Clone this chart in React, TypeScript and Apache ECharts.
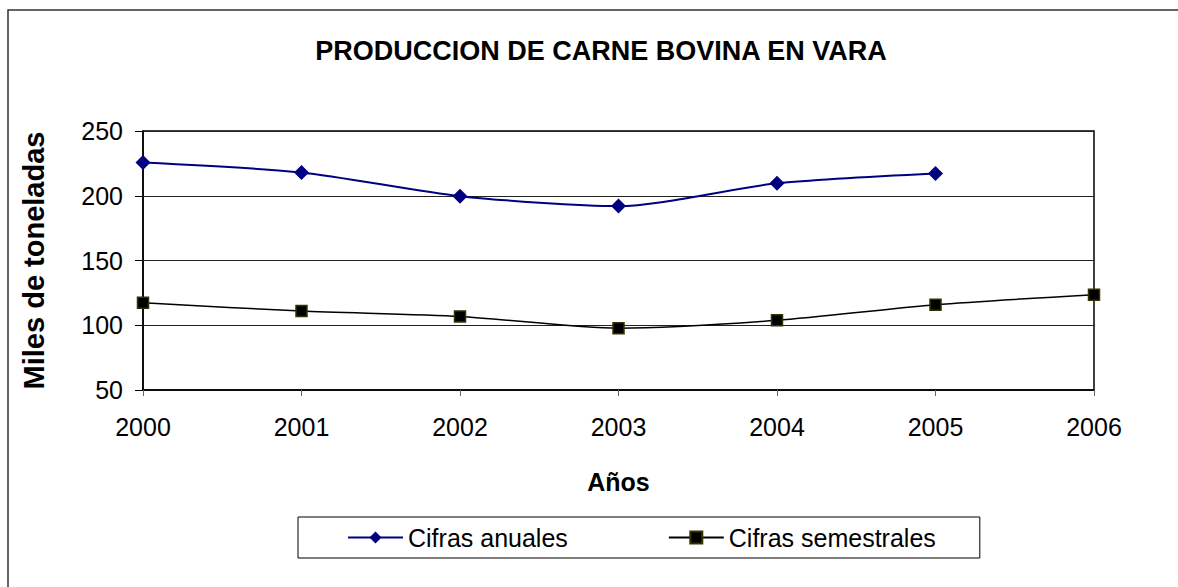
import React, { useEffect, useRef } from "react";
import * as echarts from "echarts";

const years = ["2000", "2001", "2002", "2003", "2004", "2005", "2006"];
const anuales = [225.6, 218, 199.7, 192, 209.6, 217.2, null];
const semestrales = [117.3, 111, 106.8, 97.7, 103.8, 115.8, 123.6];
const yTicks = { min: 50, max: 250, interval: 50 };

const FONT = "'Liberation Sans', Arial, sans-serif";

export default function App() {
  const ref = useRef<HTMLDivElement>(null);
  useEffect(() => {
    if (!ref.current) return;
    const chart = echarts.init(ref.current, null, { renderer: "svg" });
    chart.setOption({
      animation: false,
      backgroundColor: "#ffffff",
      textStyle: { fontFamily: FONT, color: "#000" },
      title: {
        text: "PRODUCCION DE CARNE BOVINA EN VARA",
        left: 601,
        top: 37,
        padding: 0,
        textAlign: "center",
        textStyle: { fontFamily: FONT, fontSize: 27, fontWeight: "bold", color: "#000" },
      },
      graphic: [
        {
          type: "rect",
          shape: { x: 8, y: 10, width: 1300, height: 700 },
          style: { fill: "none", stroke: "#333", lineWidth: 1.5 },
          silent: true,
        },
      ],
      grid: {
        left: 143,
        right: 1178 - 1094,
        top: 131,
        bottom: 587 - 390,
        show: true,
        borderColor: "#000",
        borderWidth: 1.5,
      },
      legend: {
        left: 298,
        top: 517,
        padding: [8, 44, 8, 49],
        itemGap: 100,
        itemWidth: 55,
        itemHeight: 15,
        borderColor: "#000",
        borderWidth: 1,
        textStyle: { fontFamily: FONT, fontSize: 25, color: "#000" },
        data: ["Cifras anuales", "Cifras semestrales"],
      },
      xAxis: {
        type: "category",
        data: years,
        boundaryGap: false,
        name: "Años",
        nameLocation: "middle",
        nameGap: 79,
        nameTextStyle: { fontFamily: FONT, fontSize: 25, fontWeight: "bold", color: "#000" },
        axisLine: { lineStyle: { color: "#000", width: 1.5 } },
        axisTick: { show: true, length: 6, inside: false, lineStyle: { color: "#666" } },
        axisLabel: { fontFamily: FONT, fontSize: 25, color: "#000", margin: 24 },
        splitLine: { show: false },
      },
      yAxis: {
        type: "value",
        min: yTicks.min,
        max: yTicks.max,
        interval: yTicks.interval,
        name: "Miles de toneladas",
        nameLocation: "middle",
        nameGap: 95,
        nameTextStyle: { fontFamily: FONT, fontSize: 29, fontWeight: "bold", color: "#000" },
        axisLine: { show: true, lineStyle: { color: "#000", width: 1.5 } },
        axisTick: { show: true, length: 8, lineStyle: { color: "#000" } },
        axisLabel: { fontFamily: FONT, fontSize: 25, color: "#000", margin: 20 },
        splitLine: { show: true, lineStyle: { color: "#222", width: 1 } },
      },
      series: [
        {
          name: "Cifras anuales",
          type: "line",
          data: anuales,
          smooth: 0.25,
          symbol: "diamond",
          symbolSize: 15,
          lineStyle: { color: "#000080", width: 2 },
          itemStyle: { color: "#000080" },
        },
        {
          name: "Cifras semestrales",
          type: "line",
          data: semestrales,
          smooth: 0.25,
          symbol: "rect",
          symbolSize: 11,
          lineStyle: { color: "#000", width: 1.5 },
          itemStyle: { color: "#000", borderColor: "#333300", borderWidth: 1.5 },
        },
      ],
    });
    return () => chart.dispose();
  }, []);
  return (
    <div
      ref={ref}
      style={{ position: "fixed", left: 0, top: 0, width: 1178, height: 587 }}
    />
  );
}
